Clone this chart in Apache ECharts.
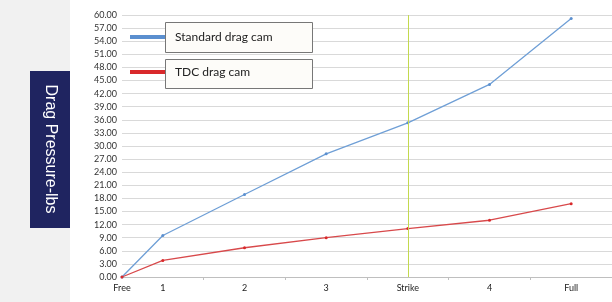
<!DOCTYPE html>
<html>
<head>
<meta charset="utf-8">
<script src="https://cdn.jsdelivr.net/npm/echarts@6/dist/echarts.min.js"></script>
<style>
  html, body { margin: 0; padding: 0; background: #fff; }
  #chart { width: 612px; height: 302px; }
</style>
</head>
<body>
<div id="chart"></div>
<script>
// stage labels and where they sit on the x scale (Free at origin, others centred in their slot)
const stages = ['Free', '1', '2', '3', 'Strike', '4', 'Full'];
const stagePos = [0, 0.5, 1.5, 2.5, 3.5, 4.5, 5.5];
const standardCam = [0, 9.5, 18.9, 28.2, 35.3, 44.1, 59.2];
const tdcCam = [0, 3.8, 6.7, 9.0, 11.1, 13.0, 16.8];
const strikePos = 3.5;

const font = 'Lato, "Liberation Sans", sans-serif';

const chart = echarts.init(document.getElementById('chart'));

const toPairs = vals => vals.map((v, i) => [stagePos[i], v]);
const labelOf = {};
stagePos.forEach((p, i) => { labelOf[p] = stages[i]; });

const option = {
  animation: false,
  backgroundColor: '#fff',
  grid: { left: 122, right: 0, top: 15, bottom: 25 },
  graphic: [
    // grey side panel + dark title box
    { type: 'rect', left: 0, top: 0, z: -10, shape: { width: 70, height: 302 }, style: { fill: '#f1f1f1' } },
    { type: 'rect', left: 30, top: 71, z: -9, shape: { width: 40, height: 157 }, style: { fill: '#1f2460' } },
    {
      type: 'text', x: 50, y: 149, rotation: -Math.PI / 2,
      style: { text: 'Drag Pressure-lbs', fill: '#fff', font: '16px "Liberation Sans", Arial, sans-serif', align: 'center', verticalAlign: 'middle' }
    },
    // legend boxes
    { type: 'rect', left: 165, top: 22, z: 5, shape: { width: 147, height: 30 }, style: { fill: '#fdfcf9', stroke: '#777', lineWidth: 1 } },
    { type: 'rect', left: 165, top: 59, z: 5, shape: { width: 147, height: 29 }, style: { fill: '#fdfcf9', stroke: '#777', lineWidth: 1 } }
  ],
  legend: [
    {
      data: ['Standard drag cam'], left: 130, top: 31, z: 10, padding: 0,
      icon: 'rect', itemWidth: 35, itemHeight: 4,
      textStyle: { fontFamily: font, fontSize: 12, color: '#222', padding: [0, 0, 0, 5] }
    },
    {
      data: ['TDC drag cam'], left: 130, top: 66, z: 10, padding: 0,
      icon: 'rect', itemWidth: 35, itemHeight: 4,
      textStyle: { fontFamily: font, fontSize: 12, color: '#222', padding: [0, 0, 0, 5] }
    }
  ],
  xAxis: {
    type: 'value', min: 0, max: 6,
    axisLine: { show: true, lineStyle: { color: '#bfbfbf' } },
    axisTick: { show: true, length: 3, customValues: [1, 2, 3, 4, 5, 6], lineStyle: { color: '#bfbfbf' } },
    axisLabel: {
      customValues: stagePos,
      formatter: v => labelOf[v] !== undefined ? labelOf[v] : '',
      fontFamily: font, fontSize: 9, color: '#222', margin: 7
    },
    splitLine: { show: false }
  },
  yAxis: {
    type: 'value', min: 0, max: 60, interval: 3,
    axisLine: { show: false },
    axisTick: { show: false },
    axisLabel: { formatter: v => v.toFixed(2), fontFamily: font, fontSize: 9, color: '#333', margin: 5 },
    splitLine: { lineStyle: { color: '#d9d9d9' } }
  },
  series: [
    {
      name: 'Standard drag cam', type: 'line',
      data: toPairs(standardCam),
      symbol: 'circle', symbolSize: 3,
      itemStyle: { color: '#5b8fcf' },
      lineStyle: { width: 1.3, color: '#6f9fd6' },
      markLine: {
        silent: true, symbol: 'none', label: { show: false },
        lineStyle: { color: '#c3d94e', width: 1, type: 'solid' },
        data: [{ xAxis: strikePos }]
      }
    },
    {
      name: 'TDC drag cam', type: 'line',
      data: toPairs(tdcCam),
      symbol: 'circle', symbolSize: 3,
      itemStyle: { color: '#d9292b' },
      lineStyle: { width: 1.3, color: '#d8494b' }
    }
  ]
};

chart.setOption(option);
</script>
</body>
</html>
